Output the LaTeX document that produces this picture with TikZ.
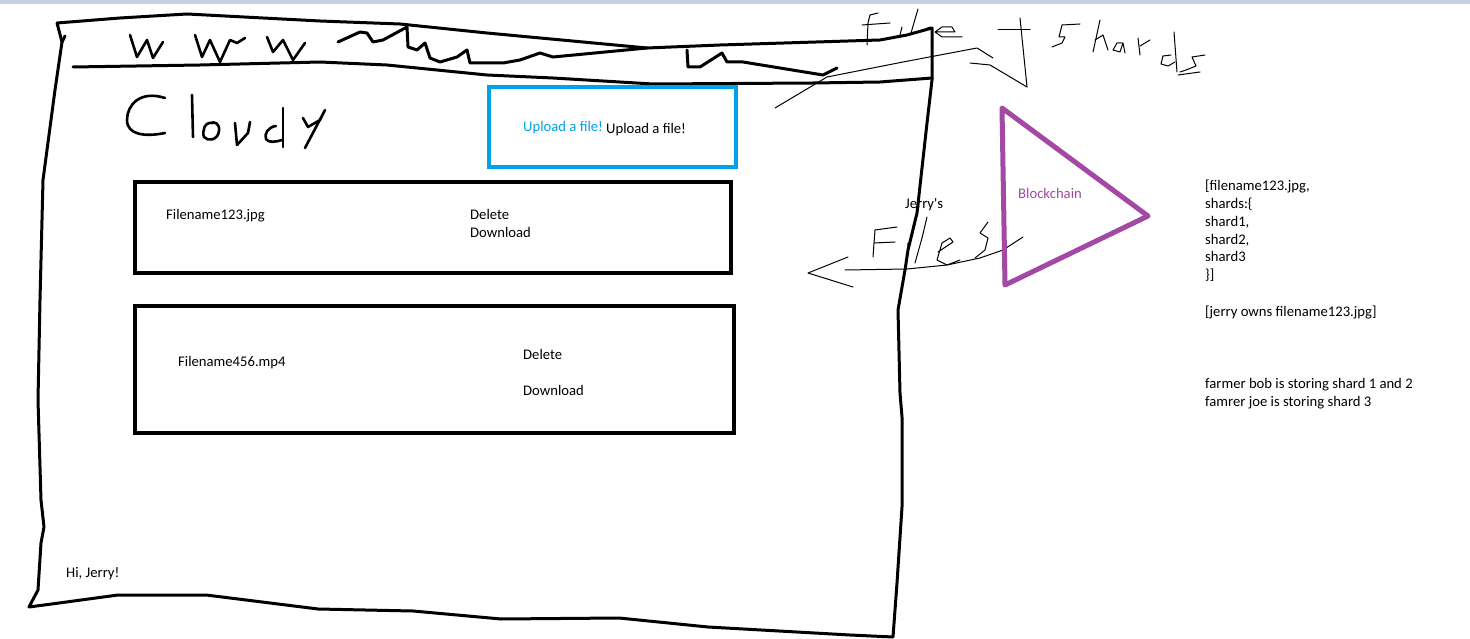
\documentclass[tikz,border=0pt]{standalone}
\usepackage{fontspec}
\setmainfont{Carlito}
\definecolor{paintblue}{RGB}{0,162,232}
\definecolor{paintpurple}{RGB}{163,73,164}
\definecolor{topbar}{RGB}{200,210,226}
\tikzset{
  txt/.style={anchor=base west, inner sep=0pt, font=\fontsize{14.67}{17.6}\selectfont},
  frameline/.style={draw=black, line width=3pt, line join=round, line cap=round},
  boxline/.style={draw=black, line width=4.5pt, line join=miter},
  pen/.style={draw=black, line width=1pt, line join=round, line cap=round},
  hand/.style={draw=black, line width=2.6pt, line join=round, line cap=round}
}
\begin{document}
\begin{tikzpicture}[x=1pt,y=-1pt]
\useasboundingbox (0,0) rectangle (1470,639);
\fill[white] (0,0) rectangle (1470,639);
\fill[topbar] (0,0) rectangle (1470,4);

% browser window outline
\draw[frameline] (57,23) -- (120,18) -- (187,14) -- (320,21) -- (400,24) -- (487,33) -- (647,48)
  -- (720,45) -- (880,40) -- (907,35) -- (932,28) -- (932,80) -- (927,123) -- (917,213)
  -- (908,250) -- (905,270) -- (898,310) -- (900,393) -- (902,417) -- (902,507) -- (897,583)
  -- (893,637) -- (850,635) -- (708,627) -- (619,618) -- (501,619) -- (413,611) -- (318,609)
  -- (206,595) -- (118,595) -- (59,603) -- (29,607) -- (38,590) -- (41,543) -- (44,527)
  -- (41,500) -- (38,400) -- (40,300) -- (43,180) -- (55,90) -- (62,42) -- (57,23);
\draw[frameline] (62,42) -- (65,36);

% address bar bottom line
\draw[frameline] (73,67) -- (200,65) -- (320,62) -- (387,65) -- (487,75) -- (553,78)
  -- (653,84) -- (813,83) -- (880,82) -- (932,78);

% address squiggle
\draw[frameline] (338,42) -- (360,32) -- (367,33) -- (373,42) -- (383,40) -- (407,27)
  -- (408,47) -- (417,50) -- (425,43) -- (430,58) -- (440,62) -- (457,57) -- (467,50)
  -- (470,63) -- (503,63) -- (520,60) -- (540,53) -- (553,57) -- (647,48);
\draw[frameline] (687,50) -- (688,67) -- (700,67) -- (722,53) -- (727,62) -- (743,62)
  -- (823,75) -- (837,68);

% www
\draw[hand] (130,35) -- (137,57) -- (147,40) -- (153,58) -- (163,42);
\draw[hand] (195,35) -- (202,57) -- (210,40) -- (220,62) -- (230,40) -- (237,43) -- (245,38);
\draw[hand] (267,37) -- (273,52) -- (283,40) -- (293,60) -- (305,43);

% Cloudy
\draw[hand] (165,98) .. controls (140,90) and (127,105) .. (127,120) .. controls (127,135) and (145,137) .. (165,133);
\draw[hand] (192,95) -- (193,137);
\draw[hand] (213,123) .. controls (204,121) and (202,132) .. (204,137) .. controls (208,142) and (218,140) .. (219,131) .. controls (220,124) and (215,121) .. (210,123);
\draw[hand] (235,123) -- (237,145) -- (248,133) -- (250,122);
\draw[hand] (276,126) .. controls (268,127) and (264,134) .. (266,139) .. controls (268,143) and (276,142) .. (282,140);
\draw[hand] (283,108) -- (283,147);
\draw[hand] (303,118) -- (308,127) -- (320,120) -- (325,110) -- (305,148);

% upload button
\draw[draw=paintblue, line width=4.5pt] (489,87) rectangle (736,167);
\node[txt, text=paintblue] (upblue) at (523,132) {Upload a file!};
\node[txt] (upblack) at (606,134) {Upload a file!};

% file rows
\draw[boxline] (135,182) rectangle (731,273);
\draw[boxline] (135,306) rectangle (734,433);
\node[txt] (f1) at (166,220) {Filename123.jpg};
\node[txt] (del1) at (470,220) {Delete};
\node[txt] (dl1) at (470,238) {Download};
\node[txt] (f2) at (178,366) {Filename456.mp4};
\node[txt] (del2) at (523,359) {Delete};
\node[txt] (dl2) at (523,395) {Download};
\node[txt] (hi) at (66,577) {Hi, Jerry!};

% "file + shards" annotation
\draw[pen] (878,13) -- (870,15) -- (868,23) -- (867,45);
\draw[pen] (862,25) -- (890,23);
\draw[pen] (902,27) -- (900,35);
\draw[pen] (918,9) -- (911,33) -- (921,31) -- (930,27);
\draw[pen] (935,32) -- (955,32) -- (952,27) -- (942,27) -- (935,32) -- (942,37) -- (962,37);
\draw[pen] (775,108) -- (827,77) -- (903,62) -- (977,48) -- (993,58);
\draw[pen] (970,63) -- (990,65) -- (1027,87);
\draw[pen] (998,30) -- (1030,30);
\draw[pen] (1020,18) -- (1027,87);
\draw[pen] (1080,24) -- (1062,25) -- (1059,37) -- (1065,37) -- (1062,43) -- (1052,47);
\draw[pen] (1100,20) -- (1093,52);
\draw[pen] (1095,40) -- (1103,35) -- (1108,50);
\draw[pen] (1122,43) -- (1117,43) -- (1113,50) -- (1120,52) -- (1123,43) -- (1125,53);
\draw[pen] (1138,38) -- (1140,55);
\draw[pen] (1140,46) -- (1150,40);
\draw[pen] (1171,55) -- (1163,56) -- (1161,64) -- (1168,66) -- (1175,62);
\draw[pen] (1174,32) -- (1177,72);
\draw[pen] (1205,55) -- (1192,57) -- (1196,66) -- (1186,70) -- (1180,72);
\draw[pen] (1178,75) -- (1200,72);

% "Jerry's Files" annotation
\node[txt] (jerrys) at (905,209) {Jerry\textquotesingle s};
\draw[pen] (875,230) -- (873,257);
\draw[pen] (875,230) -- (897,227);
\draw[pen] (874,243) -- (895,242);
\draw[pen] (908,243) -- (907,260);
\draw[pen] (927,217) -- (922,238) -- (915,263);
\draw[pen] (938,252) -- (953,242) -- (950,238) -- (942,243) -- (937,260) -- (947,265) -- (960,260);
\draw[pen] (988,222) -- (980,233) -- (988,238) -- (985,250) -- (975,258);
\draw[pen] (1023,237) -- (1003,250) -- (980,258) -- (947,265) -- (907,269) -- (845,270);
\draw[pen] (848,257) -- (808,273) -- (853,287);

% blockchain
\draw[draw=paintpurple, line width=5pt, line join=round] (1002,108) -- (1148,216) -- (1005,285) -- cycle;
\node[txt, text=paintpurple] (chain) at (1018,199) {Blockchain};

% right notes
\node[txt] (r1) at (1205,191) {[filename123.jpg,};
\node[txt] (r2) at (1205,208.7) {shards:\{};
\node[txt] (r3) at (1205,226.4) {shard1,};
\node[txt] (r4) at (1205,244.1) {shard2,};
\node[txt] (r5) at (1205,261.8) {shard3};
\node[txt] (r6) at (1205,279.5) {\}]};
\node[txt] (owns) at (1205,316) {[jerry owns filename123.jpg]};
\node[txt] (bob) at (1205,388.5) {farmer bob is storing shard 1 and 2};
\node[txt] (joe) at (1205,406) {famrer joe is storing shard 3};
\end{tikzpicture}
\end{document}
